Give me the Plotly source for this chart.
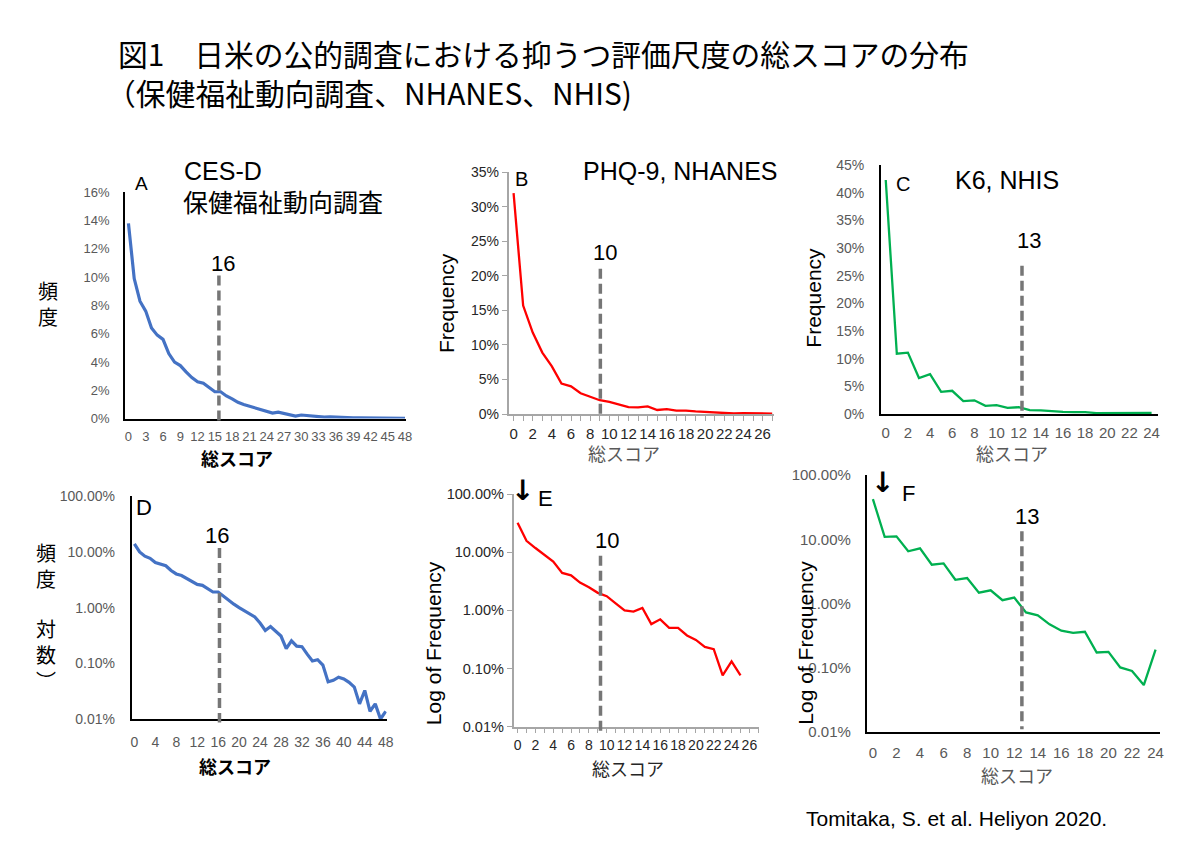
import plotly.graph_objects as go

# ---------------- data (percent) ----------------
cesd_scores = list(range(49))
cesd_freq = [13.8, 9.9, 8.3, 7.6, 6.4, 5.9, 5.6, 4.6, 4.0, 3.75,
             3.3, 2.9, 2.6, 2.5, 2.2, 1.9, 1.9, 1.6, 1.4, 1.15,
             1.0, 0.88, 0.75, 0.68, 0.53, 0.39, 0.46, 0.37, 0.31, 0.185,
             0.255, 0.205, 0.2, 0.147, 0.111, 0.117, 0.094, 0.047, 0.05, 0.057,
             0.053, 0.046, 0.038, 0.019, 0.033, 0.014, 0.019, 0.0102, 0.014]

phq_scores = list(range(28))
phq_freq = [32.0, 15.7, 11.8, 8.9, 6.9, 4.4, 4.0, 3.0, 2.5, 2.0,
            1.75, 1.32, 1.0, 0.95, 1.1, 0.58, 0.70, 0.50, 0.50, 0.37,
            0.31, 0.235, 0.215, 0.076, 0.133, 0.076, 0.0, 0.05]

k6_scores = list(range(25))
k6_freq = [42.3, 10.9, 11.1, 6.5, 7.2, 4.0, 4.2, 2.33, 2.48, 1.47,
           1.6, 1.12, 1.23, 0.72, 0.65, 0.47, 0.375, 0.345, 0.36, 0.171,
           0.175, 0.1, 0.088, 0.053, 0.19]

cutoff_labels = ["16", "10", "13"]
cutoff_positions = {"A": 15.7, "B": 9.06, "C": 12.3, "D": 16.25, "E": 9.3, "F": 12.65}

lin_ticks_A = [0, 0.02, 0.04, 0.06, 0.08, 0.10, 0.12, 0.14, 0.16]
lin_ticks_B = [0, 0.05, 0.10, 0.15, 0.20, 0.25, 0.30, 0.35]
lin_ticks_C = [0, 0.05, 0.10, 0.15, 0.20, 0.25, 0.30, 0.35, 0.40, 0.45]
log_tickvals = [0.0001, 0.001, 0.01, 0.1, 1]
log_ticktext = ["0.01%", "0.10%", "1.00%", "10.00%", "100.00%"]

W, H = 1200, 848
def PX(x): return x / W
def PY(y): return 1 - y / H

LAT = "Liberation Sans, Arial, sans-serif"
JP = "Noto Sans CJK JP, sans-serif"
BLUE, RED, GREEN = "#4472C4", "#FF0000", "#00B050"
DASH = "#767676"

fig = go.Figure()

def frac(vals, log=False):
    out = []
    for v in vals:
        if log and v <= 0:
            out.append(None)
        else:
            out.append(v / 100.0)
    return out

# traces
fig.add_trace(go.Scatter(x=cesd_scores, y=frac(cesd_freq), mode="lines",
                         line=dict(color=BLUE, width=3.2), xaxis="x", yaxis="y", cliponaxis=False))
fig.add_trace(go.Scatter(x=phq_scores, y=frac(phq_freq), mode="lines",
                         line=dict(color=RED, width=2.3), xaxis="x2", yaxis="y2", cliponaxis=False))
fig.add_trace(go.Scatter(x=k6_scores, y=frac(k6_freq), mode="lines",
                         line=dict(color=GREEN, width=2.3), xaxis="x3", yaxis="y3", cliponaxis=False))
fig.add_trace(go.Scatter(x=cesd_scores, y=frac(cesd_freq, True), mode="lines",
                         line=dict(color=BLUE, width=3.2), xaxis="x4", yaxis="y4", cliponaxis=False))
fig.add_trace(go.Scatter(x=phq_scores, y=frac(phq_freq, True), mode="lines",
                         line=dict(color=RED, width=2.3), xaxis="x5", yaxis="y5", cliponaxis=False,
                         connectgaps=False))
fig.add_trace(go.Scatter(x=k6_scores, y=frac(k6_freq, True), mode="lines",
                         line=dict(color=GREEN, width=2.3), xaxis="x6", yaxis="y6", cliponaxis=False))

def xaxis(dom, rng, tickvals, size, color, line_color, line_w, anchor, minor=False, standoff=6):
    d = dict(domain=[PX(dom[0]), PX(dom[1])], range=rng, tickvals=tickvals,
             tickfont=dict(family=LAT, size=size, color=color), showgrid=False, zeroline=False,
             showline=True, linecolor=line_color, linewidth=line_w, anchor=anchor,
             fixedrange=True)
    if minor:
        d.update(ticks="outside", ticklen=5, tickcolor=line_color, tickwidth=1,
                 minor=dict(dtick=1, ticks="outside", ticklen=5, tickcolor=line_color, tickwidth=1))
    else:
        d.update(ticks="", ticklabelstandoff=standoff)
    return d

def yaxis(dom, rng, size, color, line_color, line_w, anchor, log=False, tickvals=None,
          fmt=".0%", ticks=False, standoff=10):
    d = dict(domain=[PY(dom[1]), PY(dom[0])], range=rng,
             tickfont=dict(family=LAT, size=size, color=color), showgrid=False, zeroline=False,
             showline=True, linecolor=line_color, linewidth=line_w, anchor=anchor,
             fixedrange=True)
    if log:
        d.update(type="log", tickvals=log_tickvals, ticktext=log_ticktext)
    else:
        d.update(tickvals=tickvals, tickformat=fmt)
    if ticks:
        d.update(ticks="outside", ticklen=5, tickcolor=line_color, tickwidth=1)
    else:
        d.update(ticks="", ticklabelstandoff=standoff)
    return d

G1 = "#595959"
fig.update_layout(
    xaxis=xaxis((125, 408), [-0.57, 48.22], list(range(0, 49, 3)), 13, G1, "#000000", 2, "y", standoff=5),
    yaxis=yaxis((187, 418), [0, 0.16], 13, G1, "#000000", 2, "x", tickvals=lin_ticks_A, standoff=11),
    xaxis2=xaxis((511, 778), [-0.52, 27.17], list(range(0, 27, 2)), 15, "#262626", "#A6A6A6", 1.5, "y2", minor=True),
    yaxis2=yaxis((166.7, 413.3), [0, 0.35], 14, "#262626", "#A6A6A6", 1.5, "x2", tickvals=lin_ticks_B, ticks=True),
    xaxis3=xaxis((886, 1165), [-0.42, 24.6], list(range(0, 25, 2)), 15, G1, "#000000", 2, "y3", standoff=4),
    yaxis3=yaxis((159.3, 413.3), [0, 0.45], 14, G1, "#000000", 2, "x3", tickvals=lin_ticks_C, standoff=12),
    xaxis4=xaxis((131.7, 388.3), [-0.49, 48.19], list(range(0, 49, 4)), 14, G1, "#000000", 2, "y4", standoff=9),
    yaxis4=yaxis((496.7, 725), [-4, 0], 14, G1, "#000000", 2, "x4", log=True, standoff=12),
    xaxis5=xaxis((516, 763.3), [-0.45, 27.1], list(range(0, 27, 2)), 14, "#262626", "#A6A6A6", 1.5, "y5", minor=True),
    yaxis5=yaxis((495, 732.3), [-4, 0], 14.5, "#262626", "#A6A6A6", 1.5, "x5", log=True, ticks=True),
    xaxis6=xaxis((871.7, 1166.7), [-0.51, 24.37], list(range(0, 25, 2)), 15, G1, "#000000", 2, "y6", standoff=6),
    yaxis6=yaxis((475.7, 737.3), [-4, 0], 15, G1, "#000000", 2, "x6", log=True, standoff=11),
)

# dashed cutoff lines (x in data units, y in page pixels)
dash_specs = [("x", "A", 272, 423), ("x2", "B", 265, 417), ("x3", "C", 262, 417),
              ("x4", "D", 550, 728), ("x5", "E", 558, 737), ("x6", "F", 533, 735)]
for xr, key, y0, y1 in dash_specs:
    fig.add_shape(type="line", xref=xr, yref="paper",
                  x0=cutoff_positions[key], x1=cutoff_positions[key],
                  y0=PY(y0), y1=PY(y1),
                  line=dict(color=DASH, width=3.5, dash="10px,5px"))

annotations = []
def ann(text, x, y, size, family=LAT, color="#000000", xanchor="center", yanchor="middle",
        angle=0, weight=None, align="center"):
    f = dict(family=family, size=size, color=color)
    if weight:
        f["weight"] = weight
    annotations.append(dict(text=text, x=PX(x), y=PY(y), xref="paper", yref="paper",
                            showarrow=False, xanchor=xanchor, yanchor=yanchor, align=align,
                            textangle=angle, font=f))

# main title
ann("図1　日米の公的調査における抑うつ評価尺度の総スコアの分布", 116, 45, 29.8, family=JP, xanchor="left")
ann("（保健福祉動向調査、NHANES、NHIS)", 104, 85, 29.8, family=JP, xanchor="left")

# panel titles
ann("CES-D", 182, 165, 25, xanchor="left")
ann("保健福祉動向調査", 181, 196, 25, family=JP, xanchor="left")
ann("A", 141, 178, 19)
ann("PHQ-9, NHANES", 584, 165, 25, xanchor="left")
ann("B", 524, 173, 20)
ann("K6, NHIS", 958, 175, 25, xanchor="left")
ann("C", 908, 179, 20)
ann("D", 144, 509, 22)
ann("↓", 525, 491, 28, family="DejaVu Sans", weight="bold")
ann("E", 548, 500, 22)
ann("↓", 887, 483, 28, family="DejaVu Sans", weight="bold")
ann("F", 914, 494, 22)

# cutoff labels
ann(cutoff_labels[0], 223, 260, 22)
ann(cutoff_labels[1], 608, 248, 22)
ann(cutoff_labels[2], 1035, 236, 22)
ann(cutoff_labels[0], 217, 537, 22)
ann(cutoff_labels[1], 610, 542, 22)
ann(cutoff_labels[2], 1033, 518, 22)

# axis titles
ann("総スコア", 238, 458, 18, family=JP, weight="bold")
ann("総スコア", 627, 453, 18, family=JP, color=G1)
ann("総スコア", 1018, 453, 18, family=JP, color=G1)
ann("総スコア", 236, 772, 18, family=JP, weight="bold")
ann("総スコア", 631, 775, 18, family=JP, color="#262626")
ann("総スコア", 1023, 782, 18, family=JP, color=G1)

ann("Frequency", 449, 300, 21, angle=-90)
ann("Frequency", 818, 295, 21, angle=-90)
ann("Log of Frequency", 435, 647, 21, angle=-90)
ann("Log of Frequency", 809, 647, 21, angle=-90)

# vertical Japanese labels (stacked characters)
ann("頻<br>度", 47, 301, 20, family=JP)
ann("頻<br>度", 45, 568, 20, family=JP)
ann("対<br>数<br>︶", 45, 659, 20, family=JP)

# citation
ann("Tomitaka, S. et al. Heliyon 2020.", 808, 826, 21, xanchor="left")

fig.update_layout(annotations=annotations, width=W, height=H,
                  margin=dict(l=0, r=0, t=0, b=0), paper_bgcolor="white",
                  plot_bgcolor="white", showlegend=False,
                  font=dict(family=LAT))

fig.write_html("out.html", config={"displayModeBar": False})
